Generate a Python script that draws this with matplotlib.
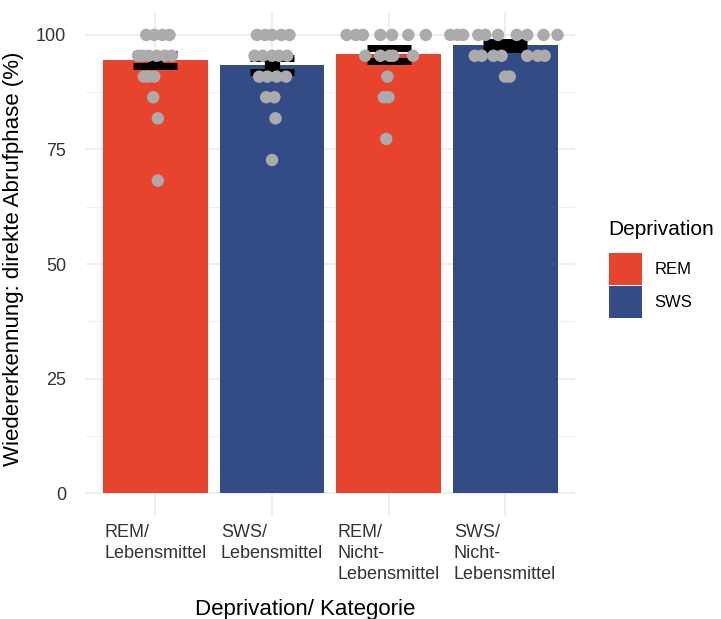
import matplotlib
matplotlib.use("Agg")
import matplotlib.pyplot as plt
from matplotlib.patches import Patch

plt.rcParams['font.family'] = ['Liberation Sans', 'DejaVu Sans']

# --- data ---
categories = ["REM/\nLebensmittel", "SWS/\nLebensmittel",
              "REM/\nNicht-\nLebensmittel", "SWS/\nNicht-\nLebensmittel"]
deprivation = ["REM", "SWS", "REM", "SWS"]
means = [94.5, 93.4, 95.8, 97.7]
se = [1.3, 1.5, 1.4, 0.8]

# single subject values (percent) and their horizontal jitter per group
pts_rem_leb = [100, 100, 100, 100, 95.45, 95.45, 95.45, 95.45, 95.45, 95.45,
               90.9, 90.9, 90.9, 86.4, 81.8, 68.2]
jit_rem_leb = [-0.08, -0.01, 0.06, 0.12, -0.15, -0.11, -0.06, 0.01, 0.08, 0.14,
               -0.10, -0.06, -0.01, -0.02, 0.02, 0.02]

pts_sws_leb = [100, 100, 100, 100, 100, 95.45, 95.45, 95.45, 95.45, 95.45,
               90.9, 90.9, 90.9, 90.9, 86.4, 86.4, 81.8, 72.7]
jit_sws_leb = [-0.13, -0.06, 0.00, 0.08, 0.15, -0.15, -0.08, 0.00, 0.06, 0.13,
               -0.11, -0.04, 0.04, 0.12, -0.05, 0.02, 0.03, 0.00]

pts_rem_nl = [100, 100, 100, 100, 100, 100, 100, 95.45, 95.45, 95.45, 95.45,
              95.45, 90.9, 86.4, 86.4, 77.3]
jit_rem_nl = [-0.36, -0.28, -0.22, -0.07, 0.03, 0.17, 0.32, -0.20, -0.07,
              0.01, 0.04, 0.21, -0.01, -0.04, 0.00, -0.02]

pts_sws_nl = [100, 100, 100, 100, 100, 100, 100, 100, 100, 100,
              95.45, 95.45, 95.45, 95.45, 95.45, 95.45, 95.45, 90.9, 90.9]
jit_sws_nl = [-0.47, -0.41, -0.36, -0.23, -0.17, -0.06, 0.10, 0.19, 0.33, 0.45,
              -0.26, -0.20, -0.10, -0.03, 0.19, 0.28, 0.34, 0.00, 0.04]

points = [pts_rem_leb, pts_sws_leb, pts_rem_nl, pts_sws_nl]
jitter = [jit_rem_leb, jit_sws_leb, jit_rem_nl, jit_sws_nl]

colors = {"REM": "#E8442D", "SWS": "#344C86"}

fig = plt.figure(figsize=(7.21, 6.19), dpi=100)
ax = fig.add_axes([0.1187, 0.1664, 0.6788, 0.8142])

xs = list(range(1, len(categories) + 1))

# grid like theme_minimal
for y in [12.5, 37.5, 62.5, 87.5]:
    ax.axhline(y, color="#EBEBEB", lw=0.6, zorder=0)
for y in [0, 25, 50, 75, 100]:
    ax.axhline(y, color="#EBEBEB", lw=1.2, zorder=0)
for x in xs:
    ax.axvline(x, color="#EBEBEB", lw=1.2, zorder=0)

ax.bar(xs, means, width=0.9, color=[colors[d] for d in deprivation], zorder=2)
ax.errorbar(xs, means, yerr=se, fmt="none", ecolor="black",
            elinewidth=11, capsize=16, capthick=5, zorder=3)

for x, vals, jit in zip(xs, points, jitter):
    ax.scatter([x + j for j in jit], vals, s=80, color="#ABABAB",
               edgecolors="none", zorder=4)

ax.set_xlim(0.4, 4.6)
ax.set_ylim(-5, 105)
ax.set_yticks([0, 25, 50, 75, 100])
ax.set_xticks(xs)
ax.set_xticklabels(categories, ha="center", multialignment="left", va="top",
                   linespacing=1.3)
ax.tick_params(axis="both", length=0, labelsize=13)
ax.tick_params(axis="y", pad=14)
ax.tick_params(axis="x", pad=6)
for lab in ax.get_xticklabels() + ax.get_yticklabels():
    lab.set_color("#333333")
for s in ax.spines.values():
    s.set_visible(False)

ax.set_ylabel("Wiedererkennung: direkte Abrufphase (%)", fontsize=16)
ax.set_xlabel("Deprivation/ Kategorie", fontsize=16)
ax.xaxis.set_label_coords(0.448, -0.165)
ax.yaxis.set_label_coords(-0.125, 0.51)

handles = [Patch(facecolor=colors["REM"], edgecolor="none", label="REM"),
           Patch(facecolor=colors["SWS"], edgecolor="none", label="SWS")]
leg = fig.legend(handles=handles, title="Deprivation", loc="upper left",
                 bbox_to_anchor=(0.835, 0.655), frameon=False, fontsize=12,
                 title_fontsize=15, handlelength=2.0, handleheight=2.6,
                 labelspacing=0.05, handletextpad=0.75, borderaxespad=0)
leg._legend_box.align = "left"
leg._legend_box.sep = 10

fig.savefig("out.png", dpi=100)
